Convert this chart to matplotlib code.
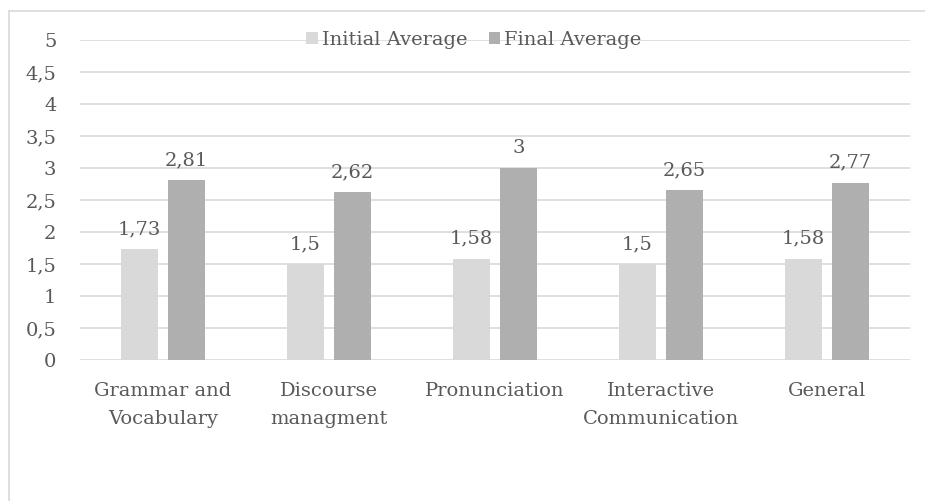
import matplotlib.pyplot as plt
import numpy as np
from matplotlib.lines import Line2D
from matplotlib.patches import Patch

categories = ["Grammar and\nVocabulary", "Discourse\nmanagment", "Pronunciation",
              "Interactive\nCommunication", "General"]
initial_avg = [1.73, 1.5, 1.58, 1.5, 1.58]
final_avg = [2.81, 2.62, 3, 2.65, 2.77]
yticks = [0, 0.5, 1, 1.5, 2, 2.5, 3, 3.5, 4, 4.5, 5]

TEXT = "#595959"
GRID = "#d9d9d9"
C_INIT = "#d9d9d9"
C_FINAL = "#afafaf"
FS = 14

plt.rcParams["font.family"] = ["DejaVu Serif"]


def fmt(v):
    s = f"{v:g}"
    return s.replace(".", ",")


fig = plt.figure(figsize=(9.25, 5.01), dpi=100)
W, H = 925, 501
ax = fig.add_axes([80 / W, 1 - 360 / H, 830 / W, 320 / H])

x = np.arange(len(categories))
bw = 0.223
gap = 0.06
off = (bw + gap) / 2
b1 = ax.bar(x - off, initial_avg, bw, color=C_INIT, zorder=2)
b2 = ax.bar(x + off, final_avg, bw, color=C_FINAL, zorder=2)

for bars, vals in ((b1, initial_avg), (b2, final_avg)):
    for rect, v in zip(bars, vals):
        ax.annotate(fmt(v), (rect.get_x() + rect.get_width() / 2, v),
                    xytext=(0, 8), textcoords="offset points",
                    ha="center", va="bottom", color=TEXT, fontsize=FS)

ax.set_xlim(-0.5, len(categories) - 0.5)
ax.set_ylim(0, 5)
ax.set_yticks(yticks)
ax.set_yticklabels([fmt(t) for t in yticks], color=TEXT, fontsize=FS)
ax.set_xticks(x)
ax.set_xticklabels(categories, color=TEXT, fontsize=FS, linespacing=1.68)
ax.tick_params(axis="both", length=0)
ax.tick_params(axis="y", pad=17)
ax.tick_params(axis="x", pad=16)
ax.yaxis.grid(True, color=GRID, linewidth=1.2, zorder=0)
ax.set_axisbelow(True)
for s in ax.spines.values():
    s.set_visible(False)

handles = [Patch(facecolor=C_INIT, label="Initial Average"),
           Patch(facecolor=C_FINAL, label="Final Average")]
ax.legend(handles=handles, loc="center", bbox_to_anchor=(474 / W, 1 - 40 / H),
          bbox_transform=fig.transFigure, ncol=2, frameon=False,
          handlelength=0.6, handleheight=0.6, handletextpad=0.2,
          columnspacing=1.1, labelcolor=TEXT, fontsize=FS)

# outer chart frame (top and left edges)
fig.add_artist(Line2D([9 / W, 1.0], [1 - 11 / H, 1 - 11 / H],
                      transform=fig.transFigure, color=GRID, linewidth=1.2))
fig.add_artist(Line2D([9 / W, 9 / W], [1 - 11 / H, 0],
                      transform=fig.transFigure, color=GRID, linewidth=1.2))

fig.savefig("out.png", dpi=100)
